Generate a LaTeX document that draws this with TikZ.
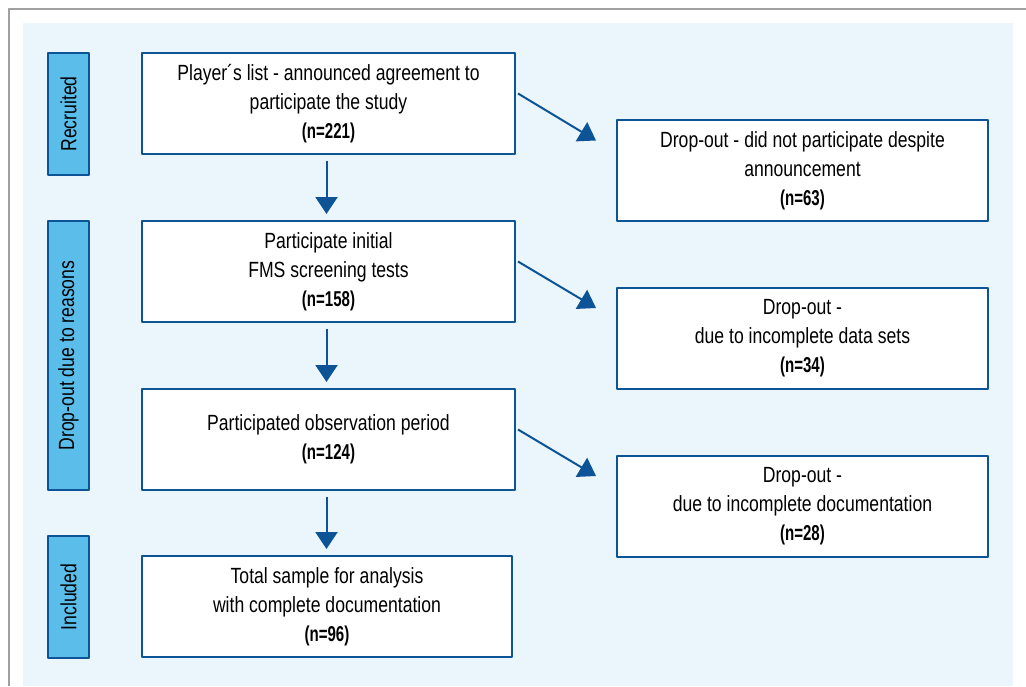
\documentclass[tikz,border=0pt]{standalone}
\usepackage{fontspec}
\setmainfont{Liberation Sans}[FakeStretch=0.8,BoldFeatures={FakeStretch=0.7}]
\usetikzlibrary{arrows.meta,calc}

\definecolor{dkblue}{RGB}{12,84,150}
\definecolor{lblue}{RGB}{91,190,234}
\definecolor{bgblue}{RGB}{234,245,252}
\definecolor{framegray}{RGB}{160,160,160}

\newcommand{\ncount}[1]{{\fontsize{21.5}{29}\selectfont\bfseries #1}}

\tikzset{
  flowbox/.style={draw=dkblue,line width=2pt,fill=white,align=center,
    inner sep=0pt,minimum width=373pt,minimum height=101pt,
    font=\fontsize{22}{29}\selectfont},
  dropbox/.style={flowbox,minimum width=371pt},
  phase/.style={draw=dkblue,line width=2pt,fill=lblue,rotate=90,
    inner sep=0pt,minimum height=41pt,font=\fontsize{22}{26}\selectfont},
  flowarrow/.style={draw=dkblue,line width=2pt,
    -{Triangle[width=22pt,length=17pt]}}
}

\begin{document}
\begin{tikzpicture}[x=1pt,y=-1pt,line join=round]

% page frame and light background
\useasboundingbox (0,0) rectangle (1026,686);
\draw[framegray,line width=1.5pt] (9,686) -- (9,9) -- (1026,9);
\fill[bgblue] (23,23) rectangle (1013,686);

% phase labels on the left
\node[phase,minimum width=122pt] (recr) at (68.5,114) {Recruited};
\node[phase,minimum width=269pt] (reas) at (68.5,355.5) {Drop-out due to reasons};
\node[phase,minimum width=122pt] (incl) at (68.5,597) {Included};

% main column
\node[flowbox] (list) at (328.5,103.5)
  {Player´s list - announced agreement to\\participate the study\\\ncount{(n=221)}};
\node[flowbox] (init) at (328.5,271.5)
  {Participate initial\\FMS screening tests\\\ncount{(n=158)}};
\node[flowbox] (obs) at (328.5,439.5)
  {Participated observation period\\\ncount{(n=124)}};
\node[flowbox,minimum width=370pt] (total) at (327,606.5)
  {Total sample for analysis\\with complete documentation\\\ncount{(n=96)}};

% drop-outs
\node[dropbox] (drop1) at (802.5,170.5)
  {Drop-out - did not participate despite\\announcement\\\ncount{(n=63)}};
\node[dropbox] (drop2) at (802.5,338)
  {Drop-out -\\due to incomplete data sets\\\ncount{(n=34)}};
\node[dropbox] (drop3) at (802.5,506)
  {Drop-out -\\due to incomplete documentation\\\ncount{(n=28)}};

% downward arrows
\draw[flowarrow,shorten <=6pt,shorten >=6pt] ([xshift=-2pt]list.south) -- ([xshift=-2pt]init.north);
\draw[flowarrow,shorten <=6pt,shorten >=6pt] ([xshift=-2pt]init.south) -- ([xshift=-2pt]obs.north);
\draw[flowarrow,shorten <=6pt,shorten >=6pt] ([xshift=-2pt]obs.south) -- ([xshift=-2pt]total.north -| obs.south);

% side arrows to the drop-outs
\draw[flowarrow] ($(list.east)+(2,-10)$) -- ($(drop1.west)+(-20,-30)$);
\draw[flowarrow] ($(init.east)+(2,-10)$) -- ($(drop2.west)+(-20,-30)$);
\draw[flowarrow] ($(obs.east)+(2,-10)$) -- ($(drop3.west)+(-20,-30)$);

\end{tikzpicture}
\end{document}
